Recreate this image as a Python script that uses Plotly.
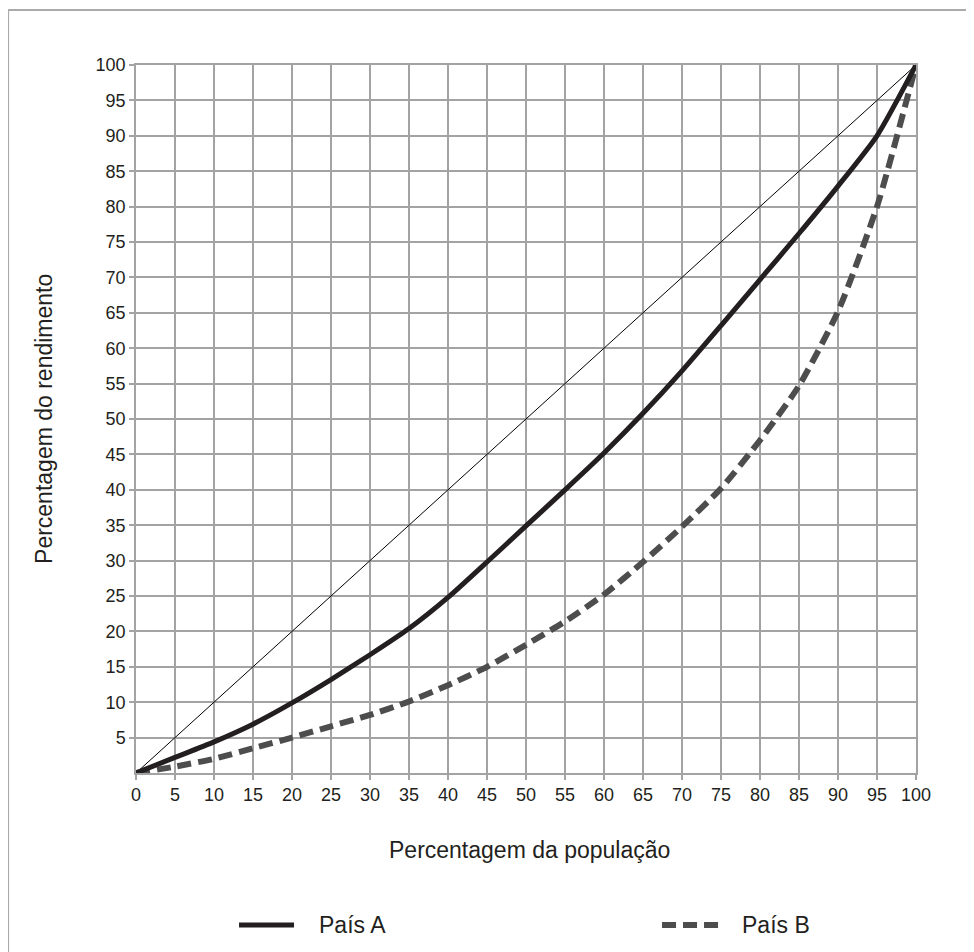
import plotly.graph_objects as go

# ---- data ----
populacao = [0, 5, 10, 15, 20, 25, 30, 35, 40, 45, 50, 55, 60, 65, 70, 75, 80, 85, 90, 95, 100]
pais_a = [0, 2.2, 4.4, 6.9, 9.9, 13.2, 16.7, 20.4, 24.8, 29.8, 34.9, 40.0, 45.2, 50.8, 56.8, 63.2, 69.7, 76.2, 82.9, 90.0, 100]
pais_b = [0, 0.9, 2.0, 3.5, 5.0, 6.6, 8.2, 10.1, 12.4, 15.0, 18.1, 21.4, 25.2, 29.8, 34.8, 40.2, 47.0, 54.7, 65.2, 80.0, 100]
igualdade_x = [0, 100]
igualdade_y = [0, 100]

x_ticks = list(range(0, 101, 5))
y_ticks = list(range(5, 101, 5))

x_title = "Percentagem da população"
y_title = "Percentagem do rendimento"
legend_labels = ["País A", "País B"]

FONT = "Liberation Sans, Arial, sans-serif"
TXT = "#231f20"
GRID = "#a3a3a3"
COL_A = "#231f20"
COL_B = "#4d4d4d"

fig = go.Figure()
fig.add_trace(go.Scatter(x=igualdade_x, y=igualdade_y, mode="lines",
                         line=dict(color="#000000", width=1), showlegend=False, hoverinfo="skip"))
fig.add_trace(go.Scatter(x=populacao, y=pais_b, mode="lines", name=legend_labels[1],
                         line=dict(color=COL_B, width=6, dash="14px,7px", shape="spline", smoothing=0.6),
                         showlegend=False))
fig.add_trace(go.Scatter(x=populacao, y=pais_a, mode="lines", name=legend_labels[0],
                         line=dict(color=COL_A, width=5, shape="spline", smoothing=0.6),
                         showlegend=False))

axis_common = dict(
    showgrid=True, gridcolor=GRID, gridwidth=1.5,
    showline=True, linecolor=GRID, linewidth=1.5, mirror=True,
    ticks="outside", ticklen=5, tickcolor=GRID, tickwidth=1.5,
    zeroline=False, tickfont=dict(family=FONT, size=18, color=TXT),
)

fig.update_layout(
    width=974, height=952,
    margin=dict(l=128, r=66, t=57, b=187),
    paper_bgcolor="white", plot_bgcolor="white",
    showlegend=False,
    xaxis=dict(range=[0, 100], tickvals=x_ticks, ticktext=[str(v) for v in x_ticks], **axis_common),
    yaxis=dict(range=[0, 100], tickvals=y_ticks, ticktext=[str(v) for v in y_ticks], **axis_common),
)

# frame (left and top edges of the original figure box)
fig.add_shape(type="line", xref="paper", yref="paper", x0=-0.164, x1=-0.164, y0=1.0777, y1=-0.3,
              line=dict(color="#aaaaaa", width=2))
fig.add_shape(type="line", xref="paper", yref="paper", x0=-0.164, x1=1.1, y0=1.0777, y1=1.0777,
              line=dict(color="#aaaaaa", width=2))

# axis titles
fig.add_annotation(text=x_title, xref="paper", yref="paper", x=0.505, y=-0.1088,
                   xanchor="center", yanchor="middle",
                   showarrow=False, font=dict(family=FONT, size=23, color=TXT))
fig.add_annotation(text=y_title, xref="paper", yref="paper", x=-0.118, y=0.5, textangle=-90,
                   xanchor="center", yanchor="middle",
                   showarrow=False, font=dict(family=FONT, size=23, color=TXT))

# legend
ly = -0.2147
fig.add_shape(type="line", xref="paper", yref="paper", x0=0.1321, x1=0.2026, y0=ly, y1=ly,
              line=dict(color=COL_A, width=5))
fig.add_annotation(text=legend_labels[0], xref="paper", yref="paper", x=0.2321, y=ly,
                   xanchor="left", yanchor="middle",
                   showarrow=False, font=dict(family=FONT, size=23, color=TXT))
fig.add_shape(type="line", xref="paper", yref="paper", x0=0.6744, x1=0.7462, y0=ly, y1=ly,
              line=dict(color=COL_B, width=6, dash="14px,7px"))
fig.add_annotation(text=legend_labels[1], xref="paper", yref="paper", x=0.7744, y=ly,
                   xanchor="left", yanchor="middle",
                   showarrow=False, font=dict(family=FONT, size=23, color=TXT))

fig.write_html("out.html")
